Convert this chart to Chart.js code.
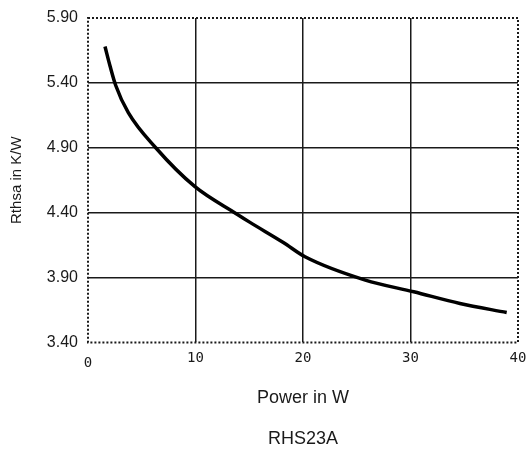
<!DOCTYPE html>
<html>
<head>
<meta charset="utf-8">
<script src="https://cdn.jsdelivr.net/npm/chart.js@4.4.0/dist/chart.umd.min.js"></script>
<style>
  html, body { margin: 0; padding: 0; background: #fff; }
  #wrap { width: 528px; height: 455px; }
</style>
</head>
<body>
<div id="wrap"><canvas id="chart"></canvas></div>
<script>
// values
const powerW = [1.58, 2.05, 2.58, 3.75, 6.30, 9.95, 13.83, 15.07, 18.17, 20.19, 25.8, 30.3, 34.6, 38.95];
const rthsa  = [5.68, 5.53, 5.38, 5.17, 4.90, 4.60, 4.39, 4.325, 4.17, 4.06, 3.88, 3.79, 3.70, 3.63];

const xTicks = [0, 10, 20, 30, 40];
const yTicks = [3.40, 3.90, 4.40, 4.90, 5.40, 5.90];

const ink = '#1a1a1a';

function edgeTransparent(list) {
  return ctx => {
    const v = ctx.tick ? ctx.tick.value : null;
    return (v === list[0] || v === list[list.length - 1]) ? 'rgba(0,0,0,0)' : ink;
  };
}

// dotted frame round the plot area
const dottedFrame = {
  id: 'dottedFrame',
  afterDatasetsDraw(chart) {
    const { ctx, chartArea: a } = chart;
    ctx.save();
    ctx.strokeStyle = ink;
    ctx.lineWidth = 2;
    ctx.setLineDash([2, 2]);
    ctx.strokeRect(a.left, a.top, a.right - a.left, a.bottom - a.top);
    ctx.restore();
  }
};

const ctx = document.getElementById('chart').getContext('2d');
new Chart(ctx, {
  type: 'line',
  data: {
    datasets: [{
      data: powerW.map((p, i) => ({ x: p, y: rthsa[i] })),
      borderColor: '#000',
      borderWidth: 3.5,
      pointRadius: 0,
      fill: false,
      cubicInterpolationMode: 'monotone'
    }]
  },
  options: {
    responsive: true,
    maintainAspectRatio: false,
    animation: false,
    layout: { padding: { top: 18, right: 10, left: 0, bottom: 0 } },
    plugins: {
      legend: { display: false },
      tooltip: { enabled: false },
      title: {
        display: true,
        fullSize: false,
        position: 'bottom',
        text: 'RHS23A',
        color: ink,
        font: { family: 'Liberation Sans', size: 18, weight: 'normal' },
        padding: { top: 8, bottom: 5 }
      }
    },
    scales: {
      x: {
        type: 'linear',
        position: 'bottom',
        min: xTicks[0],
        max: xTicks[xTicks.length - 1],
        afterBuildTicks: s => { s.ticks = xTicks.map(v => ({ value: v })); },
        afterFit: s => { s.height = 78; s.paddingLeft = 0; s.paddingRight = 0; },
        grid: { color: edgeTransparent(xTicks), lineWidth: 1.5, drawTicks: false },
        border: { display: false },
        ticks: {
          color: ink,
          padding: 8,
          font: c => ({
            family: 'DejaVu Sans Mono',
            size: 14,
            lineHeight: (c.tick && c.tick.value === 0) ? '26px' : 1.2
          })
        },
        title: {
          display: true,
          text: 'Power in W',
          color: ink,
          font: { family: 'Liberation Sans', size: 18 },
          padding: { top: 0, bottom: 12 }
        }
      },
      y: {
        type: 'linear',
        position: 'left',
        min: yTicks[0],
        max: yTicks[yTicks.length - 1],
        afterBuildTicks: s => { s.ticks = yTicks.map(v => ({ value: v })); },
        afterFit: s => { s.width = 88; s.paddingTop = 0; s.paddingBottom = 0; },
        grid: { color: edgeTransparent(yTicks), lineWidth: 1.5, drawTicks: false },
        border: { display: false },
        ticks: {
          color: ink,
          padding: 10,
          font: { family: 'Liberation Sans', size: 16 },
          callback: v => Number(v).toFixed(2)
        },
        title: {
          display: true,
          text: 'Rthsa in K/W',
          color: ink,
          font: { family: 'Liberation Sans', size: 15 },
          padding: { top: 8, bottom: 0 }
        }
      }
    }
  },
  plugins: [dottedFrame]
});
</script>
</body>
</html>
